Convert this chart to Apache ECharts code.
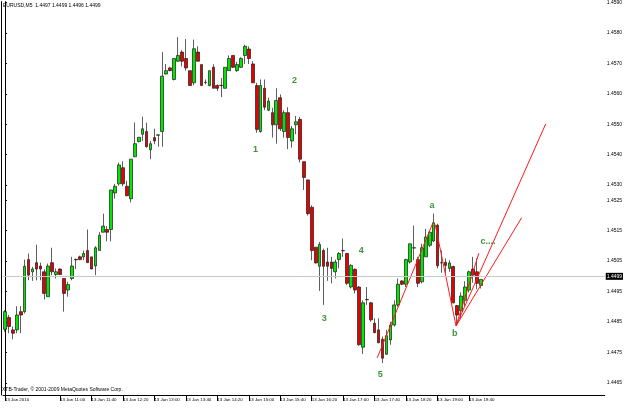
<!DOCTYPE html>
<html>
<head>
<meta charset="utf-8">
<script src="https://cdn.jsdelivr.net/npm/echarts@6/dist/echarts.min.js"></script>
<style>
  html, body { margin: 0; padding: 0; background: #fff; }
  #chart { width: 625px; height: 409px; }
</style>
</head>
<body>
<div id="chart"></div>
<script>
// EURUSD M5, 13 Jan 2010, bars from 09:50 to 19:55
const symbolName = 'EURUSD,M5';
const firstBarHour = 9;
const firstBarMinute = 50;
const barMinutes = 5;
const slotCount = 153; // bars + empty space on the right (chart shift)

const opens = [
  1.44826, 1.44865, 1.44824, 1.44824, 1.44884, 1.44884, 1.45055, 1.45015, 1.45045, 1.45034,
  1.45015, 1.44933, 1.45045, 1.45006, 1.45024, 1.44993, 1.44955, 1.44993, 1.45054, 1.45064,
  1.45064, 1.45085, 1.45064, 1.45034, 1.45085, 1.45145, 1.45154, 1.45154, 1.45274, 1.45304,
  1.45357, 1.45296, 1.45255, 1.45393, 1.45443, 1.45467, 1.45476, 1.45416, 1.45456, 1.45464,
  1.45476, 1.45665, 1.45685, 1.45647, 1.45707, 1.45737, 1.45716, 1.45676, 1.45636, 1.45737,
  1.45696, 1.45637, 1.45627, 1.45687, 1.45627, 1.45627, 1.45618, 1.45676, 1.45726, 1.45676,
  1.45687, 1.45726, 1.45747, 1.45698, 1.45627, 1.45476, 1.45618, 1.45546, 1.45538, 1.45498,
  1.45587, 1.45476, 1.45538, 1.45445, 1.45498, 1.45516, 1.45377, 1.45317, 1.45227, 1.45096,
  1.45033, 1.45085, 1.45047, 1.45047, 1.45015, 1.45055, 1.45084, 1.45075, 1.44965, 1.45023,
  1.44965, 1.44767, 1.44923, 1.44913, 1.44846, 1.44824, 1.44793, 1.44744, 1.44791, 1.44840,
  1.44906, 1.44985, 1.44974, 1.45047, 1.45093, 1.45055, 1.44982, 1.45064, 1.45102, 1.45116,
  1.45168, 1.45044, 1.45046, 1.45026, 1.45032, 1.44904, 1.44886, 1.44921, 1.44955, 1.45024,
  1.45015, 1.4497
];
const closes = [
  1.44884, 1.44835, 1.44813, 1.44873, 1.44873, 1.45033, 1.45004, 1.45024, 1.45024, 1.45024,
  1.44944, 1.45034, 1.45015, 1.45015, 1.45006, 1.44944, 1.44973, 1.45034, 1.45056, 1.45055,
  1.45075, 1.45045, 1.45024, 1.45094, 1.45135, 1.45165, 1.45145, 1.45284, 1.45296, 1.45366,
  1.45304, 1.45265, 1.45385, 1.45436, 1.45457, 1.45485, 1.45426, 1.45436, 1.45445, 1.45465,
  1.45658, 1.45676, 1.45676, 1.45716, 1.45726, 1.45707, 1.45685, 1.45627, 1.45748, 1.45707,
  1.45627, 1.45638, 1.45676, 1.45618, 1.45618, 1.45628, 1.45687, 1.45716, 1.45687, 1.45696,
  1.45716, 1.45756, 1.45716, 1.45636, 1.45483, 1.45627, 1.45556, 1.45576, 1.45498, 1.45578,
  1.45485, 1.45538, 1.45456, 1.45485, 1.45508, 1.45385, 1.45325, 1.45206, 1.45085, 1.45044,
  1.45105, 1.45033, 1.45033, 1.45026, 1.45047, 1.45075, 1.45085, 1.44977, 1.45036, 1.44955,
  1.44775, 1.44913, 1.44924, 1.44857, 1.44815, 1.44782, 1.44731, 1.44805, 1.44840, 1.44906,
  1.44974, 1.44974, 1.45055, 1.45107, 1.45094, 1.44977, 1.45094, 1.45129, 1.45145, 1.45176,
  1.45035, 1.45045, 1.45036, 1.45044, 1.44913, 1.44873, 1.44935, 1.44965, 1.45015, 1.45004,
  1.44977, 1.4499
];
const lows = [
  1.44818, 1.44813, 1.44793, 1.44813, 1.44813, 1.44878, 1.44987, 1.44985, 1.44987, 1.44987,
  1.44924, 1.44933, 1.45004, 1.44993, 1.45004, 1.44884, 1.44933, 1.44987, 1.45024, 1.45053,
  1.45053, 1.45045, 1.45024, 1.45004, 1.45085, 1.45145, 1.45115, 1.45115, 1.45255, 1.45298,
  1.45296, 1.45263, 1.45243, 1.45393, 1.45440, 1.45445, 1.45423, 1.45385, 1.45434, 1.45426,
  1.45426, 1.45663, 1.45674, 1.45644, 1.45705, 1.45690, 1.45676, 1.45627, 1.45628, 1.45705,
  1.45627, 1.45631, 1.45625, 1.45618, 1.45609, 1.45589, 1.45618, 1.45676, 1.45685, 1.45672,
  1.45685, 1.45698, 1.45698, 1.45636, 1.45472, 1.45472, 1.45546, 1.45543, 1.45456, 1.45436,
  1.45478, 1.45456, 1.45418, 1.45423, 1.45467, 1.45374, 1.45284, 1.45200, 1.45053, 1.45042,
  1.44952, 1.44906, 1.44985, 1.44977, 1.44993, 1.45026, 1.45064, 1.44971, 1.44960, 1.44944,
  1.44772, 1.44745, 1.44906, 1.44851, 1.44813, 1.44780, 1.44715, 1.44742, 1.44775, 1.44835,
  1.44900, 1.44971, 1.44965, 1.45042, 1.45053, 1.44965, 1.44977, 1.45064, 1.45096, 1.45113,
  1.45026, 1.45012, 1.45010, 1.45015, 1.44911, 1.44837, 1.44863, 1.44902, 1.44947, 1.44979,
  1.44958, 1.4496
];
const highs = [
  1.44889, 1.44873, 1.44835, 1.44902, 1.44902, 1.45055, 1.45075, 1.45031, 1.45104, 1.45045,
  1.45023, 1.45042, 1.45094, 1.45026, 1.45026, 1.44993, 1.44982, 1.45064, 1.45058, 1.45068,
  1.45085, 1.45154, 1.45064, 1.45099, 1.45145, 1.45206, 1.45165, 1.45284, 1.45304, 1.45374,
  1.45378, 1.45314, 1.45385, 1.45506, 1.45457, 1.45525, 1.45505, 1.45445, 1.45485, 1.45466,
  1.45737, 1.45698, 1.45689, 1.45716, 1.45786, 1.45743, 1.45780, 1.45676, 1.45778, 1.45756,
  1.45696, 1.45647, 1.45676, 1.45697, 1.45631, 1.45652, 1.45687, 1.45726, 1.45726, 1.45705,
  1.45720, 1.45761, 1.45756, 1.45707, 1.45636, 1.45647, 1.45647, 1.45587, 1.45554, 1.45618,
  1.45598, 1.45546, 1.45556, 1.45494, 1.45527, 1.45524, 1.45377, 1.45317, 1.45233, 1.45096,
  1.45113, 1.45091, 1.45094, 1.45064, 1.45055, 1.45080, 1.45124, 1.45077, 1.45040, 1.45026,
  1.44968, 1.44921, 1.44965, 1.44916, 1.44862, 1.44862, 1.44802, 1.44824, 1.44851, 1.44921,
  1.44993, 1.44987, 1.45058, 1.45107, 1.45167, 1.45064, 1.45107, 1.45156, 1.45151, 1.45206,
  1.45173, 1.45085, 1.45059, 1.45053, 1.45035, 1.44906, 1.44947, 1.44984, 1.45019, 1.45064,
  1.45059, 1.4499
];

const xTickTimes = ['09:50', '10:20', '11:00', '11:40', '12:20', '13:00', '13:40', '14:20',
  '15:00', '15:40', '16:20', '17:00', '17:40', '18:20', '19:00', '19:40'];
const yTickLabels = [1.4590, 1.4580, 1.4570, 1.4560, 1.4550, 1.4540, 1.4530, 1.4525,
  1.4515, 1.4505, 1.4495, 1.4485, 1.4475, 1.4465];

// wave marks drawn on the chart (bar index, price)
const waveLabels = ['1', '2', '3', '4', '5', 'a', 'b', 'c....'];
const waveLabelBar = [63.7, 73.6, 81.2, 90.6, 95.4, 108.6, 114.4, 122.8];
const waveLabelPrice = [1.45416, 1.45645, 1.44863, 1.45086, 1.44677, 1.45233, 1.44811, 1.45115];

// red trend lines: [barFrom, priceFrom, barTo, priceTo]
const trendLines = [
  [94.65, 1.44732, 108.86, 1.45177],
  [109.4, 1.45170, 114.7, 1.44837],
  [114.7, 1.44837, 120.5, 1.45076],
  [114.7, 1.44837, 137.5, 1.45501],
  [114.7, 1.44837, 131.4, 1.45193]
];

const pad = n => (n < 10 ? '0' : '') + n;
const categories = [];
for (let i = 0; i < slotCount; i++) {
  const m = firstBarHour * 60 + firstBarMinute + i * barMinutes;
  categories.push(pad(Math.floor(m / 60) % 24) + ':' + pad(m % 60));
}

const candles = opens.map((o, i) => [o, closes[i], lows[i], highs[i]]);
const last = opens.length - 1;
const showTick = (index, value) => index <= last && xTickTimes.indexOf(value) >= 0;

const font = 'Liberation Sans';
const chart = echarts.init(document.getElementById('chart'));

const series = [
  {
    type: 'candlestick',
    xAxisIndex: 0,
    yAxisIndex: 0,
    data: candles,
    barWidth: 3.2,
    itemStyle: {
      color: '#00e800',
      color0: '#e80000',
      borderColor: '#1a1a1a',
      borderColor0: '#1a1a1a',
      borderWidth: 0.7
    },
    markLine: {
      symbol: 'none',
      silent: true,
      lineStyle: { color: '#c8c8c8', width: 1, type: 'solid' },
      label: {
        position: 'end',
        distance: 1,
        formatter: closes[last].toFixed(4),
        backgroundColor: '#000',
        color: '#fff',
        fontSize: 5,
        fontFamily: font,
        padding: [1, 1]
      },
      data: [{ yAxis: closes[last] }]
    }
  },
  {
    type: 'scatter',
    xAxisIndex: 1,
    yAxisIndex: 0,
    symbolSize: 1,
    itemStyle: { color: 'rgba(0,0,0,0)' },
    data: waveLabelBar.map((b, i) => [b, waveLabelPrice[i]]),
    label: {
      show: true,
      position: 'inside',
      formatter: p => waveLabels[p.dataIndex],
      color: '#0c780c',
      fontWeight: 'bold',
      fontSize: 9,
      fontFamily: font
    },
    z: 5
  }
];

trendLines.forEach(t => {
  series.push({
    type: 'line',
    xAxisIndex: 1,
    yAxisIndex: 0,
    symbol: 'none',
    lineStyle: { color: '#ff1a1a', width: 1 },
    data: [[t[0], t[1]], [t[2], t[3]]],
    z: 4
  });
});

const option = {
  animation: false,
  backgroundColor: '#fff',
  title: [
    {
      text: symbolName + '  ' + [opens[last], highs[last], lows[last], closes[last]].map(v => v.toFixed(4)).join(' '),
      left: 3, top: 3, padding: 0,
      textStyle: { fontSize: 5, fontWeight: 'normal', color: '#000', fontFamily: font }
    },
    {
      text: 'XTB-Trader, © 2001-2009 MetaQuotes Software Corp.',
      left: 2, top: 387, padding: 0,
      textStyle: { fontSize: 5, fontWeight: 'normal', color: '#000', fontFamily: font }
    }
  ],
  grid: { left: 3, right: 19, top: 0, bottom: 14 },
  xAxis: [
    {
      type: 'category',
      data: categories,
      boundaryGap: true,
      axisLine: { show: true, lineStyle: { color: '#000', width: 1 } },
      axisTick: { show: true, interval: showTick, alignWithLabel: true, length: 6, lineStyle: { color: '#000' } },
      axisLabel: {
        interval: showTick,
        showMinLabel: true,
        formatter: v => (v === xTickTimes[0] ? '13 Jan 2010' : '13 Jan ' + v),
        align: 'left',
        margin: 3,
        fontSize: 4.4,
        color: '#000',
        fontFamily: font
      },
      splitLine: { show: false }
    },
    { type: 'value', min: -0.5, max: slotCount - 0.5, show: false }
  ],
  yAxis: [
    {
      type: 'value',
      position: 'right',
      min: 1.4461,
      max: 1.45903,
      axisLine: { show: true, lineStyle: { color: '#000', width: 1 } },
      axisTick: { show: true, length: 2, customValues: yTickLabels, lineStyle: { color: '#000' } },
      axisLabel: {
        customValues: yTickLabels,
        formatter: v => v.toFixed(4),
        fontSize: 5,
        margin: 2,
        color: '#000',
        fontFamily: font
      },
      splitLine: { show: false }
    },
    {
      type: 'value',
      position: 'left',
      offset: 1.5,
      min: 1.4461,
      max: 1.45903,
      axisLine: { show: true, lineStyle: { color: '#000', width: 1 } },
      axisTick: { show: false },
      axisLabel: { show: false },
      splitLine: { show: false }
    }
  ],
  series: series
};

chart.setOption(option);
window.addEventListener('resize', chart.resize);
</script>
</body>
</html>
